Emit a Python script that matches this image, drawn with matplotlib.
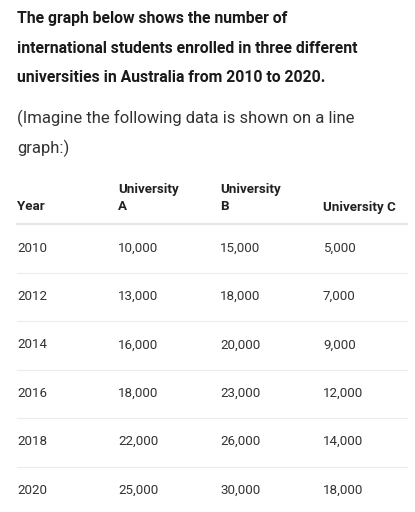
import matplotlib
matplotlib.use("Agg")
import matplotlib.pyplot as plt
from matplotlib.lines import Line2D

years = ["2010", "2012", "2014", "2016", "2018", "2020"]
uni_a = ["10,000", "13,000", "16,000", "18,000", "22,000", "25,000"]
uni_b = ["15,000", "18,000", "20,000", "23,000", "26,000", "30,000"]
uni_c = ["5,000", "7,000", "9,000", "12,000", "14,000", "18,000"]

title_lines = ["The graph below shows the number of",
               "international students enrolled in three different",
               "universities in Australia from 2010 to 2020."]
sub_lines = ["(Imagine the following data is shown on a line", "graph:)"]

W, H = 415, 512
plt.rcParams["font.family"] = ["Roboto", "DejaVu Sans"]
fig = plt.figure(figsize=(W / 100, H / 100), dpi=100)


def txt(x, y, s, **kw):
    fig.text(x / W, 1 - y / H, s, va="center", ha="left", **kw)


def hline(y, lw, c):
    fig.add_artist(Line2D([17 / W, 407 / W], [1 - y / H] * 2, lw=lw, color=c))


for i, s in enumerate(title_lines):
    txt(17, 19 + i * 29.5, s, fontsize=11.3, fontweight="bold", color="#1a1a1a")
for i, s in enumerate(sub_lines):
    txt(17, 118 + i * 30, s, fontsize=12, color="#333333")

hdr_kw = dict(fontsize=9.6, fontweight="bold", color="#222222")
txt(17, 207, "Year", **hdr_kw)
txt(118, 190, "University", **hdr_kw)
txt(118, 207, "A", **hdr_kw)
txt(220, 190, "University", **hdr_kw)
txt(220, 207, "B", **hdr_kw)
txt(323, 207, "University C", **hdr_kw)
hline(224, 1.6, "#e6e6e6")

cols = [(17, years), (118, uni_a), (220, uni_b), (323, uni_c)]
for r in range(len(years)):
    y = 248 + r * 48.4
    for x, vals in cols:
        txt(x, y, vals[r], fontsize=9.6, color="#333333")
    if r < len(years) - 1:
        hline(y + 25, 0.8, "#ececec")

fig.savefig("out.png", dpi=100)
